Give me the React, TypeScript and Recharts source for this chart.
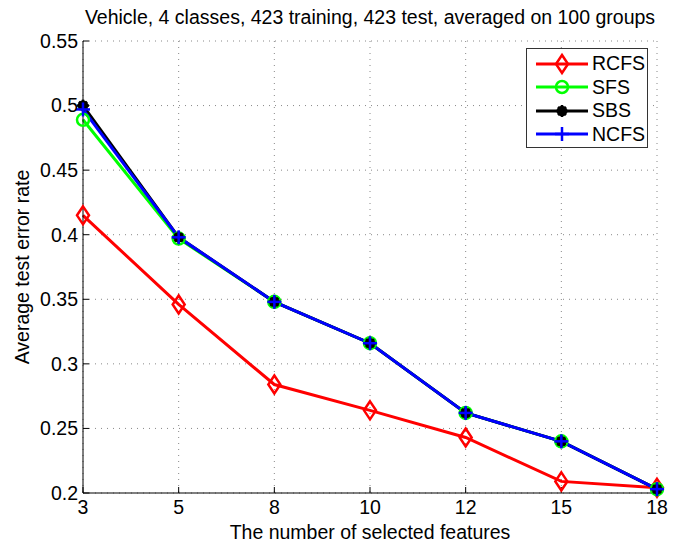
import { LineChart, Line, XAxis, YAxis, CartesianGrid } from 'recharts';

const features = ['3', '5', '8', '10', '12', '15', '18'];
const rcfs = [0.415, 0.346, 0.284, 0.264, 0.243, 0.209, 0.204];
const sfs = [0.489, 0.397, 0.348, 0.316, 0.262, 0.24, 0.203];
const sbs = [0.5, 0.398, 0.348, 0.316, 0.262, 0.24, 0.203];
const ncfs = [0.497, 0.398, 0.348, 0.316, 0.262, 0.24, 0.203];
const yTicks = [0.2, 0.25, 0.3, 0.35, 0.4, 0.45, 0.5, 0.55];

const data = features.map((f, i) => ({ f, rcfs: rcfs[i], sfs: sfs[i], sbs: sbs[i], ncfs: ncfs[i] }));

const FONT = '"Liberation Sans", Arial, Helvetica, sans-serif';
const FS = 19.5;

const Diamond = ({ cx, cy }: any) =>
  cx == null ? null : (
    <polygon points={`${cx},${cy - 9} ${cx + 6},${cy} ${cx},${cy + 9} ${cx - 6},${cy}`} fill="none" stroke="#ff0000" strokeWidth={2.5} />
  );
const Ring = ({ cx, cy }: any) =>
  cx == null ? null : <circle cx={cx} cy={cy} r={6} fill="none" stroke="#00ff00" strokeWidth={2.5} />;
const Star = ({ cx, cy }: any) =>
  cx == null ? null : (
    <g stroke="#000" strokeWidth={2.5}>
      <circle cx={cx} cy={cy} r={4} fill="#000" />
      <line x1={cx - 6} y1={cy} x2={cx + 6} y2={cy} />
      <line x1={cx} y1={cy - 6} x2={cx} y2={cy + 6} />
      <line x1={cx - 4} y1={cy - 4} x2={cx + 4} y2={cy + 4} />
      <line x1={cx - 4} y1={cy + 4} x2={cx + 4} y2={cy - 4} />
    </g>
  );
const Plus = ({ cx, cy }: any) =>
  cx == null ? null : (
    <g stroke="#0000ff" strokeWidth={2.5}>
      <line x1={cx - 7} y1={cy} x2={cx + 7} y2={cy} />
      <line x1={cx} y1={cy - 7} x2={cx} y2={cy + 7} />
    </g>
  );

const legendItems = [
  { name: 'RCFS', color: '#ff0000', Mark: Diamond },
  { name: 'SFS', color: '#00ff00', Mark: Ring },
  { name: 'SBS', color: '#000000', Mark: Star },
  { name: 'NCFS', color: '#0000ff', Mark: Plus },
];

// legend drawn as an overlay so it does not shrink the plot area
const LegendBox = () => (
  <div
    style={{
      position: 'absolute',
      left: 526,
      top: 48,
      width: 122,
      height: 100,
      boxSizing: 'border-box',
      background: '#fff',
      border: '1px solid #333',
      paddingTop: 3,
    }}
  >
    {legendItems.map(({ name, color, Mark }) => (
      <div key={name} style={{ display: 'flex', alignItems: 'center', height: 23.5 }}>
        <svg width={64} height={24} style={{ flex: 'none' }}>
          <line x1={9} y1={12} x2={61} y2={12} stroke={color} strokeWidth={3} />
          <Mark cx={35} cy={12} />
        </svg>
        <span style={{ fontSize: FS, color: '#000', marginLeft: 1, lineHeight: 1 }}>{name}</span>
      </div>
    ))}
  </div>
);

export default function App() {
  return (
    <div style={{ position: 'absolute', left: 0, top: 0, width: 686, height: 542, background: '#fff', fontFamily: FONT }}>
      <div
        style={{
          position: 'absolute',
          top: 6,
          left: 70,
          width: 600,
          textAlign: 'center',
          fontSize: FS,
          lineHeight: '22px',
          color: '#000',
          whiteSpace: 'nowrap',
        }}
      >
        Vehicle, 4 classes, 423 training, 423 test, averaged on 100 groups
      </div>
      <LineChart width={686} height={542} data={data} margin={{ top: 41, right: 29, left: 0, bottom: 0 }}>
        <CartesianGrid stroke="#888" strokeDasharray="1 5" />
        <XAxis
          dataKey="f"
          height={49}
          stroke="#000"
          tickSize={-6}
          tickMargin={13}
          tick={{ fill: '#000', fontSize: FS }}
          label={{ value: 'The number of selected features', position: 'insideBottom', offset: 3, fill: '#000', fontSize: FS }}
        />
        <XAxis xAxisId="top" dataKey="f" orientation="top" height={0} stroke="#000" tickSize={-6} tick={false} />
        <YAxis
          type="number"
          domain={[0.2, 0.55]}
          ticks={yTicks}
          width={83}
          stroke="#000"
          tickSize={-6}
          tickMargin={11}
          tickFormatter={(v) => String(Number(v.toFixed(2)))}
          tick={{ fill: '#000', fontSize: FS }}
          label={{ value: 'Average test error rate', angle: -90, position: 'insideLeft', offset: 22, fill: '#000', fontSize: FS, style: { textAnchor: 'middle' } }}
        />
        <YAxis yAxisId="right" orientation="right" type="number" domain={[0.2, 0.55]} ticks={yTicks} width={0} stroke="#000" tickSize={-6} tick={false} />
        <Line dataKey="rcfs" name="RCFS" stroke="#ff0000" strokeWidth={3} dot={<Diamond />} isAnimationActive={false} />
        <Line dataKey="sfs" name="SFS" stroke="#00ff00" strokeWidth={3} dot={<Ring />} isAnimationActive={false} />
        <Line dataKey="sbs" name="SBS" stroke="#000000" strokeWidth={3} dot={<Star />} isAnimationActive={false} />
        <Line dataKey="ncfs" name="NCFS" stroke="#0000ff" strokeWidth={3} dot={<Plus />} isAnimationActive={false} />
      </LineChart>
      <LegendBox />
    </div>
  );
}
